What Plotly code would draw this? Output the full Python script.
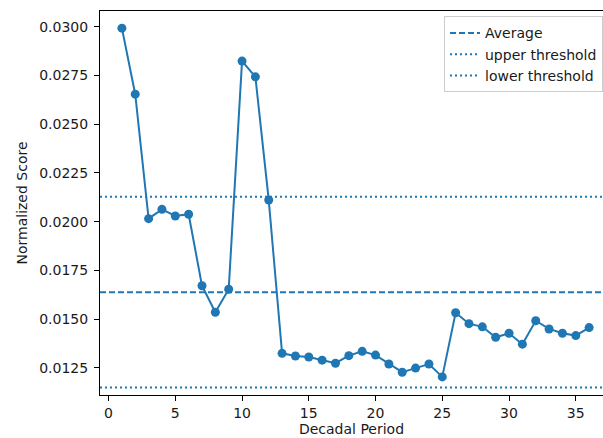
import plotly.graph_objects as go

# ---- data ----
periods = list(range(1, 37))
scores = [0.02993, 0.02654, 0.02015, 0.02063, 0.02029, 0.02038, 0.01671, 0.01535, 0.01653,
          0.02824, 0.02743, 0.02111, 0.01324, 0.01310, 0.01305, 0.01289, 0.01273, 0.01312,
          0.01334, 0.01315, 0.01269, 0.01227, 0.01248, 0.01269, 0.01203, 0.01532, 0.01476,
          0.01460, 0.01406, 0.01427, 0.01371, 0.01491, 0.01449, 0.01427, 0.01415, 0.01456]
average = 0.01637
upper_threshold = 0.02128
lower_threshold = 0.01149
x_ticks = [0, 5, 10, 15, 20, 25, 30, 35]
y_ticks = [0.0125, 0.0150, 0.0175, 0.0200, 0.0225, 0.0250, 0.0275, 0.0300]

X_RANGE = [-0.64, 37.04]
Y_RANGE = [0.01110, 0.03081]

BLUE = "#1f77b4"
FONT = "DejaVu Sans"
FS = 14

fig = go.Figure()
fig.add_trace(go.Scatter(x=periods, y=scores, mode="lines+markers",
                         line=dict(color=BLUE, width=2),
                         marker=dict(color=BLUE, size=9),
                         showlegend=False, cliponaxis=False))
fig.add_trace(go.Scatter(x=X_RANGE, y=[average, average], mode="lines", name="Average",
                         line=dict(color=BLUE, width=2, dash="6px,3px")))
fig.add_trace(go.Scatter(x=X_RANGE, y=[upper_threshold, upper_threshold], mode="lines",
                         name="upper threshold",
                         line=dict(color=BLUE, width=2, dash="2px,3px")))
fig.add_trace(go.Scatter(x=X_RANGE, y=[lower_threshold, lower_threshold], mode="lines",
                         name="lower threshold",
                         line=dict(color=BLUE, width=2, dash="2px,3px")))

fig.update_layout(
    width=603, height=438,
    margin=dict(l=100, r=0, t=11, b=43),
    paper_bgcolor="white", plot_bgcolor="white",
    font=dict(family=FONT, size=FS, color="#1a1a1a"),
    legend=dict(x=0.684, y=0.986, xanchor="left", yanchor="top",
                bordercolor="#cccccc", borderwidth=1, bgcolor="rgba(255,255,255,0.8)",
                font=dict(family=FONT, size=FS), tracegroupgap=0, itemwidth=30),
    xaxis=dict(range=X_RANGE, tickvals=x_ticks, ticks="outside", ticklen=5, tickwidth=1,
               tickcolor="black", showline=True, linecolor="black", linewidth=1,
               mirror=True, showgrid=False, zeroline=False, automargin=False,
               title=dict(text="Decadal Period", standoff=2, font=dict(size=FS))),
    yaxis=dict(range=Y_RANGE, tickvals=y_ticks, tickformat=".4f", ticks="outside",
               ticklen=5, tickwidth=1, tickcolor="black", showline=True,
               linecolor="black", linewidth=1, showgrid=False, zeroline=False,
               automargin=False, ticklabelstandoff=3,
               title=dict(text="Normalized Score", standoff=8, font=dict(size=FS))),
)

fig.write_html("out.html", config={"displayModeBar": False},
               post_script="document.body.style.margin='0';")
